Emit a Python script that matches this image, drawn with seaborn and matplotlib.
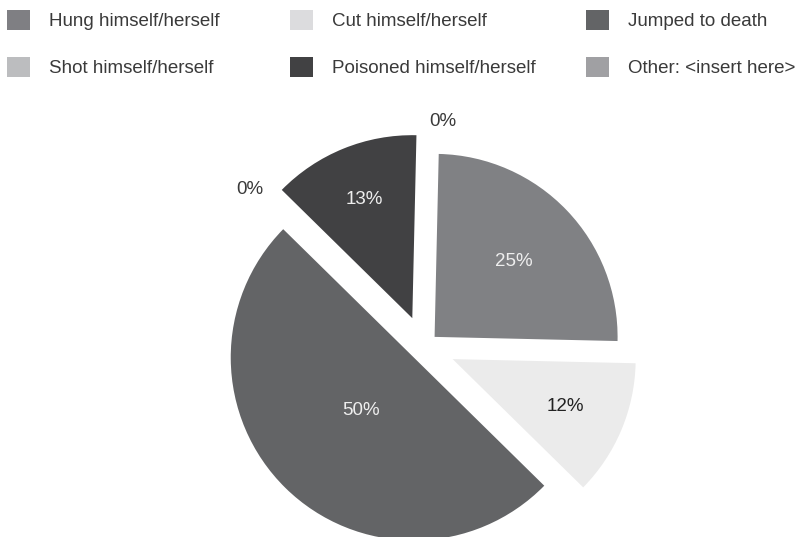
import numpy as np
import matplotlib
matplotlib.use("Agg")
import matplotlib.pyplot as plt
from matplotlib.patches import Patch
import seaborn as sns

# ---- data ----
categories = ["Hung himself/herself", "Cut himself/herself", "Jumped to death",
              "Shot himself/herself", "Poisoned himself/herself", "Other: <insert here>"]
shares = [25, 12, 50, 0, 13, 0]
pct_labels = ["25%", "12%", "50%", "0%", "13%", "0%"]

# ---- style ----
slice_colors = ["#808184", "#ebebeb", "#636466", "#bcbdbf", "#414143", "#a0a0a3"]
legend_colors = ["#7f7f83", "#dcdcde", "#636466", "#bcbdbf", "#414143", "#a0a0a3"]
explode = [0.08, 0.17, 0.08, 0.13, 0.17, 0.13]
inner_dist = [0.60, 0.67, 0.41, 0.60, 0.70, 0.60]
inner_color = ["#eeeeee", "#222222", "#eeeeee", "#eeeeee", "#eeeeee", "#eeeeee"]

sns.set_theme(style="white")
plt.rcParams["font.family"] = ["Liberation Sans", "DejaVu Sans"]
FS = 13.5
TXT = "#3a3a3a"

W, H = 798, 537
fig = plt.figure(figsize=(W / 100, H / 100), dpi=100)
fig.patch.set_facecolor("white")

# pie axes: centre at (424, 347) px, radius 183 px
cx, cy, R = 424, 347, 183
half = 250
ax = fig.add_axes([(cx - half) / W, (H - cy - half) / H, 2 * half / W, 2 * half / H])

wedges, texts = ax.pie(shares, colors=slice_colors, explode=explode,
                       startangle=88.7, counterclock=False, labels=None,
                       wedgeprops=dict(linewidth=0))
lim = half / R
ax.set_xlim(-lim, lim)
ax.set_ylim(-lim, lim)
ax.set_aspect("equal")
ax.axis("off")

for i, w in enumerate(wedges):
    mid = np.deg2rad((w.theta1 + w.theta2) / 2)
    c = w.center
    if shares[i] > 0:
        d = inner_dist[i]
        ax.text(c[0] + d * np.cos(mid), c[1] + d * np.sin(mid), pct_labels[i],
                ha="center", va="center", fontsize=FS, color=inner_color[i])
    else:
        d = 1.1
        x, y = c[0] + d * np.cos(mid), c[1] + d * np.sin(mid)
        ax.text(x, y, pct_labels[i], ha="left" if x > 0 else "right",
                va="center", fontsize=FS, color=TXT)

# legend: three columns, two rows
handles = [Patch(facecolor=legend_colors[i], edgecolor="none") for i in range(6)]
col_x = [7, 290, 586]
for col in range(3):
    idx = [col, col + 3]
    fig.legend([handles[j] for j in idx], [categories[j] for j in idx],
               loc="upper left", bbox_to_anchor=(col_x[col] / W, 1 - 10 / H),
               frameon=False, fontsize=FS, handlelength=1.23, handleheight=1.23,
               handletextpad=1.0, labelspacing=1.44, borderpad=0,
               borderaxespad=0, labelcolor=TXT)

fig.savefig("out.png", dpi=100, facecolor="white")
